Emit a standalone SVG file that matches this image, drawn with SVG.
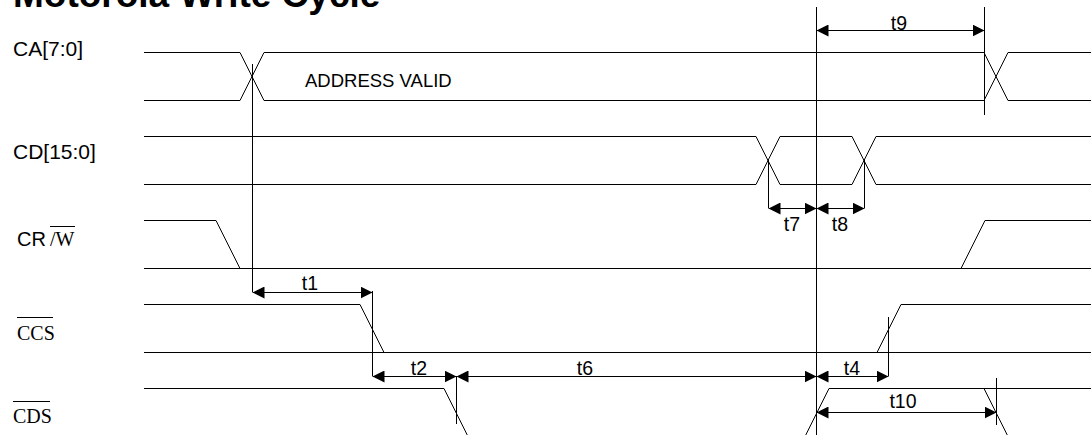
<svg xmlns="http://www.w3.org/2000/svg" width="1091" height="435" viewBox="0 0 1091 435">
<style>
.w{fill:none;stroke:#000;stroke-width:1}
.s{font-family:"Liberation Sans",Arial,sans-serif;fill:#000}
.r{font-family:"Liberation Serif","Times New Roman",serif;fill:#000}
.lbl{font-size:21px}
.t{font-size:19.5px;text-anchor:middle}
.dim{fill:none;stroke:#000;stroke-width:1;marker-start:url(#ah);marker-end:url(#ah)}
</style>
<defs>
<marker id="ah" markerUnits="userSpaceOnUse" markerWidth="12" markerHeight="12" refX="12" refY="6" orient="auto-start-reverse">
<path d="M0,0 L12,6 L0,12 z" fill="#000"/>
</marker>
</defs>
<rect width="1091" height="435" fill="#fff"/>
<text class="s" x="13" y="7" font-size="37" font-weight="bold">Motorola Write Cycle</text>

<g id="ca">
<text class="s lbl" x="13" y="56">CA[7:0]</text>
<path class="w" d="M144,52.5 H240 L264,100.5 H984 L1008,52.5 H1091 M144,100.5 H240 L264,52.5 H984 L1008,100.5 H1091"/>
<text class="s" x="305" y="87" font-size="18.5">ADDRESS VALID</text>
</g>

<g id="cd">
<text class="s lbl" x="13" y="159">CD[15:0]</text>
<path class="w" d="M144,136.5 H756 L780,184.5 H852 L876,136.5 H1091 M144,184.5 H756 L780,136.5 H852 L876,184.5 H1091"/>
</g>

<g id="crw">
<text class="s" x="17" y="246" font-size="20">CR</text>
<text class="r" x="50" y="246" font-size="20">/W</text>
<line class="w" x1="50" y1="226.5" x2="75" y2="226.5"/>
<path class="w" d="M144,220.5 H216 L240,268.5 M144,268.5 H1091 M961,268.5 L985,220.5 H1091"/>
</g>

<g id="ccs">
<text class="r" x="17" y="340" font-size="20">CCS</text>
<line class="w" x1="17" y1="317.5" x2="53" y2="317.5"/>
<path class="w" d="M144,304.5 H360 L384,352.5 M144,352.5 H1091 M877,352.5 L901,304.5 H1091"/>
</g>

<g id="cds">
<text class="r" x="13" y="423" font-size="20">CDS</text>
<line class="w" x1="13" y1="401.5" x2="50" y2="401.5"/>
<path class="w" d="M144,388.5 H444 L468,436.5 M805,436.5 L829,388.5 H1091 M984,388.5 L1008,436.5"/>
</g>

<g id="connectors">
<path class="w" d="M252.5,64 V292 M816.5,7 V435 M984.5,7 V115 M768.5,160 V208 M864.5,160 V208 M372.5,291 V376 M456.5,376 V424 M888.5,317 V376 M996.5,378 V425"/>
<line class="dim" x1="816.5" y1="30.5" x2="984.5" y2="30.5"/>
<line class="dim" x1="768.5" y1="208.5" x2="816.5" y2="208.5"/>
<line class="dim" x1="816.5" y1="208.5" x2="864.5" y2="208.5"/>
<line class="dim" x1="252.5" y1="292.5" x2="372.5" y2="292.5"/>
<line class="dim" x1="372.5" y1="376.5" x2="456.5" y2="376.5"/>
<line class="dim" x1="456.5" y1="376.5" x2="816.5" y2="376.5"/>
<line class="dim" x1="816.5" y1="376.5" x2="888.5" y2="376.5"/>
<line class="dim" x1="816.5" y1="412.5" x2="996.5" y2="412.5"/>
<text class="s t" x="899" y="30">t9</text>
<text class="s t" x="792" y="231">t7</text>
<text class="s t" x="840" y="231">t8</text>
<text class="s t" x="310" y="290">t1</text>
<text class="s t" x="419" y="375">t2</text>
<text class="s t" x="585" y="375">t6</text>
<text class="s t" x="852" y="375">t4</text>
<text class="s t" x="903" y="408">t10</text>
</g>
</svg>
